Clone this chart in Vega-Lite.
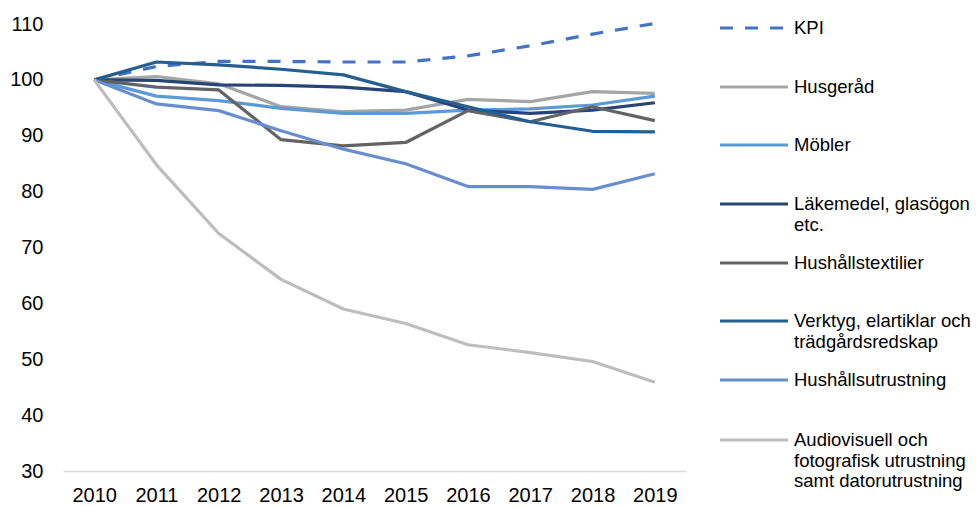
{
  "$schema": "https://vega.github.io/schema/vega-lite/v6.json",
  "autosize": {"type": "none"},
  "padding": {"left": 63, "top": 24, "right": 292, "bottom": 36},
  "width": 623,
  "height": 447,
  "background": "white",
  "config": {
    "view": {"stroke": null},
    "font": "Liberation Sans",
    "axis": {"labelFont": "Liberation Sans", "labelColor": "#000000", "labelFontSize": 20, "grid": false, "ticks": false, "title": null},
    "legend": {
      "title": null,
      "orient": "none",
      "legendX": 678,
      "padding": 0,
      "rowPadding": 0,
      "symbolType": "M-3,0H3",
      "symbolSize": 514,
      "symbolStrokeWidth": 3.2,
      "labelFont": "Liberation Sans",
      "labelFontSize": 18.5,
      "labelColor": "#000000",
      "labelBaseline": "middle",
      "labelLineHeight": 22.5,
      "labelOffset": 27,
      "labelLimit": 400
    }
  },
  "data": {
    "values": [
      {"year": "2010", "serie": "KPI", "value": 100},
      {"year": "2011", "serie": "KPI", "value": 102.4},
      {"year": "2012", "serie": "KPI", "value": 103.3},
      {"year": "2013", "serie": "KPI", "value": 103.3},
      {"year": "2014", "serie": "KPI", "value": 103.2},
      {"year": "2015", "serie": "KPI", "value": 103.2},
      {"year": "2016", "serie": "KPI", "value": 104.3},
      {"year": "2017", "serie": "KPI", "value": 106.1},
      {"year": "2018", "serie": "KPI", "value": 108.2},
      {"year": "2019", "serie": "KPI", "value": 110.1},
      {"year": "2010", "serie": "Husgeråd", "value": 100},
      {"year": "2011", "serie": "Husgeråd", "value": 100.6},
      {"year": "2012", "serie": "Husgeråd", "value": 99.3},
      {"year": "2013", "serie": "Husgeråd", "value": 95.2},
      {"year": "2014", "serie": "Husgeråd", "value": 94.3},
      {"year": "2015", "serie": "Husgeråd", "value": 94.6},
      {"year": "2016", "serie": "Husgeråd", "value": 96.5},
      {"year": "2017", "serie": "Husgeråd", "value": 96.1},
      {"year": "2018", "serie": "Husgeråd", "value": 97.9},
      {"year": "2019", "serie": "Husgeråd", "value": 97.6},
      {"year": "2010", "serie": "Möbler", "value": 100},
      {"year": "2011", "serie": "Möbler", "value": 97.1},
      {"year": "2012", "serie": "Möbler", "value": 96.3},
      {"year": "2013", "serie": "Möbler", "value": 94.9},
      {"year": "2014", "serie": "Möbler", "value": 94.0},
      {"year": "2015", "serie": "Möbler", "value": 94.0},
      {"year": "2016", "serie": "Möbler", "value": 94.6},
      {"year": "2017", "serie": "Möbler", "value": 94.8},
      {"year": "2018", "serie": "Möbler", "value": 95.5},
      {"year": "2019", "serie": "Möbler", "value": 97.1},
      {"year": "2010", "serie": "Läkemedel, glasögon etc.", "value": 100},
      {"year": "2011", "serie": "Läkemedel, glasögon etc.", "value": 99.9},
      {"year": "2012", "serie": "Läkemedel, glasögon etc.", "value": 99.1},
      {"year": "2013", "serie": "Läkemedel, glasögon etc.", "value": 99.0},
      {"year": "2014", "serie": "Läkemedel, glasögon etc.", "value": 98.7},
      {"year": "2015", "serie": "Läkemedel, glasögon etc.", "value": 97.9},
      {"year": "2016", "serie": "Läkemedel, glasögon etc.", "value": 94.6},
      {"year": "2017", "serie": "Läkemedel, glasögon etc.", "value": 94.0},
      {"year": "2018", "serie": "Läkemedel, glasögon etc.", "value": 94.6},
      {"year": "2019", "serie": "Läkemedel, glasögon etc.", "value": 95.9},
      {"year": "2010", "serie": "Hushållstextilier", "value": 100},
      {"year": "2011", "serie": "Hushållstextilier", "value": 98.7},
      {"year": "2012", "serie": "Hushållstextilier", "value": 98.2},
      {"year": "2013", "serie": "Hushållstextilier", "value": 89.3},
      {"year": "2014", "serie": "Hushållstextilier", "value": 88.2},
      {"year": "2015", "serie": "Hushållstextilier", "value": 88.8},
      {"year": "2016", "serie": "Hushållstextilier", "value": 94.5},
      {"year": "2017", "serie": "Hushållstextilier", "value": 92.5},
      {"year": "2018", "serie": "Hushållstextilier", "value": 95.2},
      {"year": "2019", "serie": "Hushållstextilier", "value": 92.7},
      {"year": "2010", "serie": "Verktyg, elartiklar och trädgårdsredskap", "value": 100},
      {"year": "2011", "serie": "Verktyg, elartiklar och trädgårdsredskap", "value": 103.2},
      {"year": "2012", "serie": "Verktyg, elartiklar och trädgårdsredskap", "value": 102.7},
      {"year": "2013", "serie": "Verktyg, elartiklar och trädgårdsredskap", "value": 101.9},
      {"year": "2014", "serie": "Verktyg, elartiklar och trädgårdsredskap", "value": 100.9},
      {"year": "2015", "serie": "Verktyg, elartiklar och trädgårdsredskap", "value": 97.9},
      {"year": "2016", "serie": "Verktyg, elartiklar och trädgårdsredskap", "value": 95.2},
      {"year": "2017", "serie": "Verktyg, elartiklar och trädgårdsredskap", "value": 92.5},
      {"year": "2018", "serie": "Verktyg, elartiklar och trädgårdsredskap", "value": 90.8},
      {"year": "2019", "serie": "Verktyg, elartiklar och trädgårdsredskap", "value": 90.7},
      {"year": "2010", "serie": "Hushållsutrustning", "value": 100},
      {"year": "2011", "serie": "Hushållsutrustning", "value": 95.7},
      {"year": "2012", "serie": "Hushållsutrustning", "value": 94.5},
      {"year": "2013", "serie": "Hushållsutrustning", "value": 90.9},
      {"year": "2014", "serie": "Hushållsutrustning", "value": 87.6},
      {"year": "2015", "serie": "Hushållsutrustning", "value": 85.0},
      {"year": "2016", "serie": "Hushållsutrustning", "value": 80.9},
      {"year": "2017", "serie": "Hushållsutrustning", "value": 80.9},
      {"year": "2018", "serie": "Hushållsutrustning", "value": 80.4},
      {"year": "2019", "serie": "Hushållsutrustning", "value": 83.2},
      {"year": "2010", "serie": "Audiovisuell och fotografisk utrustning samt datorutrustning", "value": 100},
      {"year": "2011", "serie": "Audiovisuell och fotografisk utrustning samt datorutrustning", "value": 84.8},
      {"year": "2012", "serie": "Audiovisuell och fotografisk utrustning samt datorutrustning", "value": 72.5},
      {"year": "2013", "serie": "Audiovisuell och fotografisk utrustning samt datorutrustning", "value": 64.3},
      {"year": "2014", "serie": "Audiovisuell och fotografisk utrustning samt datorutrustning", "value": 59.0},
      {"year": "2015", "serie": "Audiovisuell och fotografisk utrustning samt datorutrustning", "value": 56.4},
      {"year": "2016", "serie": "Audiovisuell och fotografisk utrustning samt datorutrustning", "value": 52.6},
      {"year": "2017", "serie": "Audiovisuell och fotografisk utrustning samt datorutrustning", "value": 51.2},
      {"year": "2018", "serie": "Audiovisuell och fotografisk utrustning samt datorutrustning", "value": 49.6},
      {"year": "2019", "serie": "Audiovisuell och fotografisk utrustning samt datorutrustning", "value": 45.9}
    ]
  },
  "encoding": {
    "x": {
      "field": "year",
      "type": "ordinal",
      "scale": {"type": "point", "padding": 0.5},
      "axis": {"labelAngle": 0, "labelPadding": 14, "domain": true, "domainColor": "#D9D9D9", "domainWidth": 1.3}
    },
    "y": {
      "field": "value",
      "type": "quantitative",
      "scale": {"domain": [30, 110], "nice": false, "zero": false},
      "axis": {"values": [30, 40, 50, 60, 70, 80, 90, 100, 110], "domain": false, "labelPadding": 20}
    }
  },
  "layer": [
    {
      "transform": [{"filter": "datum.serie == 'KPI'"}],
      "mark": {"type": "line", "strokeWidth": 3.2, "strokeCap": "butt", "strokeJoin": "round", "strokeDash": [13, 12]},
      "encoding": {
        "color": {"field": "serie", "type": "nominal", "scale": {"domain": ["KPI"], "range": ["#4472C4"]},
          "legend": {"legendY": -9, "symbolDash": [13, 12]}}
      }
    },
    {
      "transform": [{"filter": "datum.serie == 'Husgeråd'"}],
      "mark": {"type": "line", "strokeWidth": 3.2, "strokeCap": "butt", "strokeJoin": "round"},
      "encoding": {
        "color": {"field": "serie", "type": "nominal", "scale": {"domain": ["Husgeråd"], "range": ["#A5A5A5"]},
          "legend": {"legendY": 50}}
      }
    },
    {
      "transform": [{"filter": "datum.serie == 'Möbler'"}],
      "mark": {"type": "line", "strokeWidth": 3.2, "strokeCap": "butt", "strokeJoin": "round"},
      "encoding": {
        "color": {"field": "serie", "type": "nominal", "scale": {"domain": ["Möbler"], "range": ["#5B9BD5"]},
          "legend": {"legendY": 108}}
      }
    },
    {
      "transform": [{"filter": "datum.serie == 'Läkemedel, glasögon etc.'"}],
      "mark": {"type": "line", "strokeWidth": 3.2, "strokeCap": "butt", "strokeJoin": "round"},
      "encoding": {
        "color": {"field": "serie", "type": "nominal", "scale": {"domain": ["Läkemedel, glasögon etc."], "range": ["#264478"]},
          "legend": {"legendY": 167, "labelExpr": "['Läkemedel, glasögon', 'etc.']"}}
      }
    },
    {
      "transform": [{"filter": "datum.serie == 'Hushållstextilier'"}],
      "mark": {"type": "line", "strokeWidth": 3.2, "strokeCap": "butt", "strokeJoin": "round"},
      "encoding": {
        "color": {"field": "serie", "type": "nominal", "scale": {"domain": ["Hushållstextilier"], "range": ["#636363"]},
          "legend": {"legendY": 226}}
      }
    },
    {
      "transform": [{"filter": "datum.serie == 'Verktyg, elartiklar och trädgårdsredskap'"}],
      "mark": {"type": "line", "strokeWidth": 3.2, "strokeCap": "butt", "strokeJoin": "round"},
      "encoding": {
        "color": {"field": "serie", "type": "nominal", "scale": {"domain": ["Verktyg, elartiklar och trädgårdsredskap"], "range": ["#255E91"]},
          "legend": {"legendY": 284, "labelExpr": "['Verktyg, elartiklar och', 'trädgårdsredskap']"}}
      }
    },
    {
      "transform": [{"filter": "datum.serie == 'Hushållsutrustning'"}],
      "mark": {"type": "line", "strokeWidth": 3.2, "strokeCap": "butt", "strokeJoin": "round"},
      "encoding": {
        "color": {"field": "serie", "type": "nominal", "scale": {"domain": ["Hushållsutrustning"], "range": ["#698ED0"]},
          "legend": {"legendY": 343}}
      }
    },
    {
      "transform": [{"filter": "datum.serie == 'Audiovisuell och fotografisk utrustning samt datorutrustning'"}],
      "mark": {"type": "line", "strokeWidth": 3.2, "strokeCap": "butt", "strokeJoin": "round"},
      "encoding": {
        "color": {"field": "serie", "type": "nominal", "scale": {"domain": ["Audiovisuell och fotografisk utrustning samt datorutrustning"], "range": ["#BDBDBD"]},
          "legend": {"legendY": 403, "labelExpr": "['Audiovisuell och', 'fotografisk utrustning', 'samt datorutrustning']"}}
      }
    }
  ],
  "resolve": {"scale": {"color": "independent"}, "legend": {"color": "independent"}}
}
